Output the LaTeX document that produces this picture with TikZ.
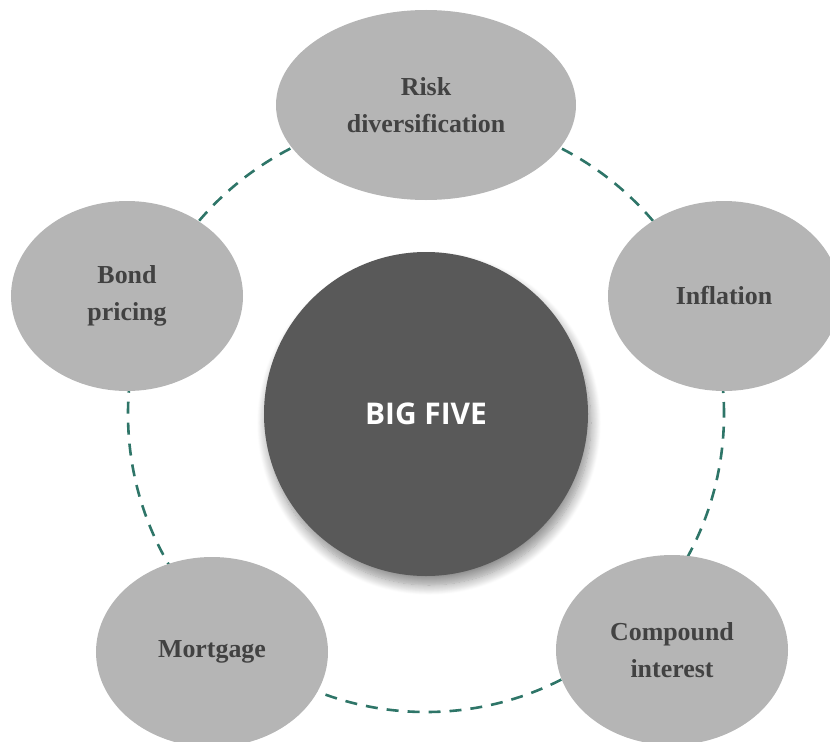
\documentclass[tikz,border=0pt]{standalone}
\usepackage{fontspec}
\setmainfont{Liberation Serif}
\newfontfamily\hubfont{Open Sans}
\usepackage{tikz}
\usetikzlibrary{positioning,shapes.geometric,shadows.blur}
\definecolor{ringteal}{RGB}{46,117,104}
\definecolor{topicfill}{RGB}{181,181,181}
\definecolor{topictext}{RGB}{66,66,66}
\definecolor{hubfill}{RGB}{89,89,89}
\tikzset{
  topic/.style={ellipse, fill=topicfill, minimum width=232bp, minimum height=190bp,
                inner sep=0pt, align=center, text=topictext,
                font=\fontsize{26}{37}\selectfont\bfseries},
  hub/.style  ={circle, fill=hubfill, minimum size=324bp, inner sep=0pt, text=white,
                font=\hubfont\fontsize{30}{36}\selectfont\bfseries,
                blur shadow={shadow xshift=3bp, shadow yshift=-9bp,
                             shadow blur radius=10bp, shadow blur steps=14,
                             shadow opacity=45}},
  ring/.style ={draw=ringteal, line width=2.6bp, dash pattern=on 12bp off 9bp},
}

\begin{document}
\begin{tikzpicture}[x=1bp, y=-1bp]
\useasboundingbox (0,0) rectangle (830,742);
\node[hub] (hub) at (426,414) {BIG FIVE};
% dashed ring behind the five topics
\draw[ring] (hub.center) circle[radius=298bp];
\node[topic, minimum width=300bp] (risk) at (426,105) {Risk\\diversification};
\node[topic] (inflation) at (724,296) {Inflation};
\node[topic] (bond) at (127,296) {Bond\\pricing};
\node[topic] (mortgage) at (212,652) {Mortgage};
\node[topic] (compound) at (672,650) {Compound\\interest};
\end{tikzpicture}
\end{document}
